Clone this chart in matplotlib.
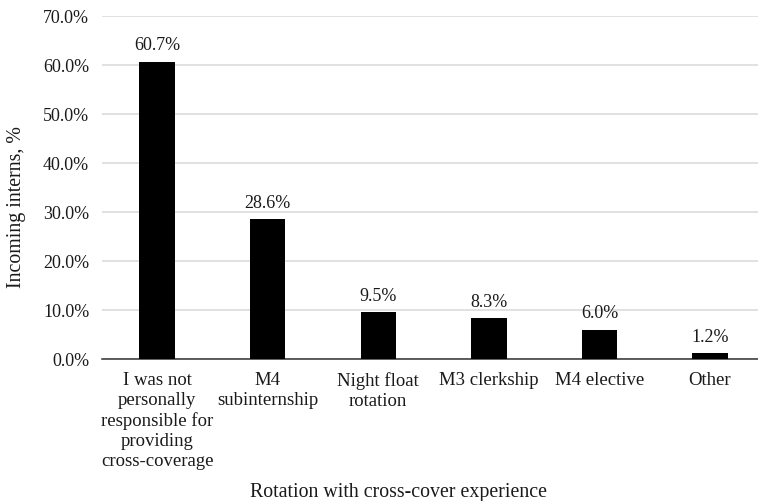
import matplotlib.pyplot as plt
import numpy as np

# Rotation types and share of incoming interns
rotations = ['I was not\npersonally\nresponsible for\nproviding\ncross-coverage',
             'M4\nsubinternship', 'Night float\nrotation', 'M3 clerkship',
             'M4 elective', 'Other']
percent = [60.7, 28.6, 9.5, 8.3, 6.0, 1.2]
y_ticks = [0, 10, 20, 30, 40, 50, 60, 70]

plt.rcParams['font.family'] = ['Liberation Serif', 'DejaVu Serif']
FS = 13
TICK_FS = 13.5
LABEL_FS = 14.3
TXT = '#1a1a1a'

fig = plt.figure(figsize=(7.58, 5.02), dpi=100)
ax = fig.add_axes([0.1342, 0.2829, 0.8755, 0.6833])

x = np.arange(len(rotations))
bars = ax.bar(x, percent, width=0.32, color='black', zorder=3)

for rect, val in zip(bars, percent):
    ax.annotate(f'{val:.1f}%', xy=(rect.get_x() + rect.get_width() / 2, val),
                xytext=(0, 6), textcoords='offset points',
                ha='center', va='bottom', fontsize=FS, color=TXT)

ax.set_xlim(-0.5, len(rotations) - 0.5)
ax.set_ylim(0, 70)
ax.set_yticks(y_ticks)
ax.set_yticklabels([f'{t:.1f}%' for t in y_ticks], fontsize=FS, color=TXT)
ax.set_xticks(x)
ax.set_xticklabels(rotations, fontsize=TICK_FS, color=TXT, linespacing=1.22)
ax.tick_params(axis='both', length=0)
ax.tick_params(axis='y', pad=9)
ax.tick_params(axis='x', pad=9)

ax.grid(axis='y', color='#d9d9d9', linewidth=1.1, zorder=0)
for side in ['top', 'right', 'left']:
    ax.spines[side].set_visible(False)
ax.spines['bottom'].set_color('#333333')
ax.spines['bottom'].set_linewidth(1.1)

# axis titles placed in figure coordinates
fig.text(17 / 758, 1 - 207 / 502, 'Incoming interns, %', rotation=90,
         ha='center', va='center', fontsize=LABEL_FS, color=TXT)
fig.text(398 / 758, 1 - 492.5 / 502, 'Rotation with cross-cover experience',
         ha='center', va='center', fontsize=LABEL_FS, color=TXT)

fig.savefig('out.png', dpi=100, facecolor='white')
